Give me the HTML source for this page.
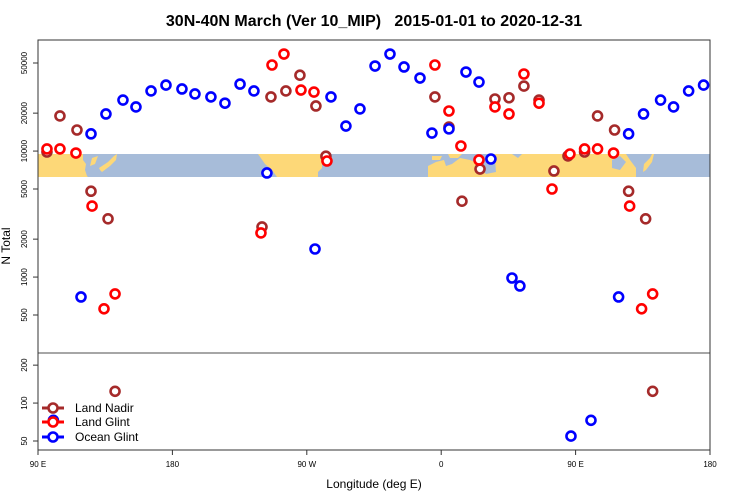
<!DOCTYPE html>
<html><head><meta charset="utf-8"><style>
body{margin:0;background:#fff;}
svg{display:block;font-family:"Liberation Sans",sans-serif;}
</style></head><body>
<svg id="chart" width="750" height="500">
<text x="374" y="26" text-anchor="middle" font-size="16" font-weight="bold" style="white-space:pre" xml:space="preserve">30N-40N March (Ver 10_MIP)   2015-01-01 to 2020-12-31</text>
<g id="map">
<rect x="38" y="154" width="672" height="23" fill="#a7bcd9"/>
<g fill="#fdd878">
<polygon points="38,154 83,154 83,160 86,164 85,170 87,176 88,177 38,177"/>
<polygon points="92,158 98,156 95,164 90,166"/>
<polygon points="99,168 108,162 114,156 117,154 116,160 110,166 102,172 100,170"/>
<polygon points="258,154 322,154 322,168 318,172 318,177 277,177 272,170 265,164"/>
<polygon points="428,166 436,162 444,160 446,166 452,164 460,158 470,160 480,164 490,160 495,154 512,154 518,158 522,154 626,154 630,160 636,168 636,177 428,177"/>
<polygon points="432,156 442,156 440,160 432,160"/>
<polygon points="448,154 462,154 458,158 450,158"/>
<polygon points="644,164 650,158 652,154 654,154 652,162 646,170 643,172"/>
</g>
<g fill="#a7bcd9">
<polygon points="478,160 495,160 496,172 486,174 480,168"/>
<polygon points="612,160 620,156 626,162 620,170 612,168"/>
</g>
</g>
<line x1="38" y1="353" x2="710" y2="353" stroke="#888" stroke-width="1.5"/>
<rect x="38" y="40" width="672" height="410" fill="none" stroke="#333" stroke-width="1"/>
<g id="axes"></g>
<g id="points"></g>
<g>
<g><line x1="42" y1="408" x2="64" y2="408" stroke="#a52a2a" stroke-width="3"/><circle cx="53" cy="408" r="4.5" fill="#fff" stroke="#a52a2a" stroke-width="2.6"/><text x="75" y="412" font-size="12">Land Nadir</text></g>
<g><line x1="42" y1="422" x2="64" y2="422" stroke="#ff0000" stroke-width="3"/><circle cx="53" cy="422" r="4.5" fill="#fff" stroke="#ff0000" stroke-width="2.6"/><text x="75" y="426" font-size="12">Land Glint</text></g>
<g><line x1="42" y1="437" x2="64" y2="437" stroke="#0000ff" stroke-width="3"/><circle cx="53" cy="437" r="4.5" fill="#fff" stroke="#0000ff" stroke-width="2.6"/><text x="75" y="441" font-size="12">Ocean Glint</text></g>
</g>
<text x="374" y="488" text-anchor="middle" font-size="12">Longitude (deg E)</text>
<text transform="translate(10,246) rotate(-90)" text-anchor="middle" font-size="12">N Total</text>
</svg>
<script>
const landNadirLon=[96,104.7,116.1,125.5,136.9,141.6,-120,-114,-104,-94.6,-83.9,-77.2,-4.2,5.2,13.9,26,36,45.4,55.4,65.5,75.5,84.9];
const landNadirN=[9830,19000,14700,4800,2900,124,2500,26900,30000,40000,22800,9100,26900,15500,4000,7200,25900,26500,32800,25400,6950,9150];
const landGlintLon=[96,104.7,115.4,126.2,134.2,141.6,-120.7,-113.3,-105.3,-93.9,-85.2,-76.5,-4.2,5.2,13.2,25.3,36,45.4,55.4,65.5,74.2,86.2];
const landGlintN=[10400,10400,9650,3660,560,735,2240,48200,58900,30500,29400,8340,48200,20800,10970,8500,22400,19700,40900,24000,5000,9480];
const oceanGlintLon=[118.8,125.5,135.5,146.9,155.6,165.7,175.7,-173.6,-164.9,-154.2,-144.8,-134.7,-125.4,-116.7,-84.5,-73.8,-63.8,-54.4,-44.3,-34.3,-24.9,-14.2,-6.2,5.2,16.6,25.3,33.3,47.4,52.7,86.9,100.3];
const oceanGlintN=[695,13700,19700,25400,22400,30000,33400,31100,28400,26900,24000,34000,30000,6700,1670,26900,15800,21600,47300,58900,46500,38000,13900,15000,42400,35300,8650,983,850,54.7,73];
const xTickLabels=["90 E","180","90 W","0","90 E","180"];
const xTickVals=[90,180,270,360,450,540];
const yTickUpper=[50000,20000,10000,5000,2000,1000,500];
const yTickLower=[200,100,50];

const NS="http://www.w3.org/2000/svg";
function xScale(u){return 38+(u-90)*672/450;}
function yScale(v){return 189-126*Math.log10(v/5000);}
function mk(tag,attrs,parent){const e=document.createElementNS(NS,tag);for(const k in attrs)e.setAttribute(k,attrs[k]);parent.appendChild(e);return e;}
const axes=document.getElementById('axes');
xTickVals.forEach((u,i)=>{
  const x=xScale(u);
  const t=mk('line',{x1:x,y1:450,x2:x,y2:455,stroke:'#333'},axes);
  
  
  const l=mk('text',{x:x,y:467,'text-anchor':'middle','font-size':'8'},axes);
  l.textContent=xTickLabels[i];
  
  
});
yTickUpper.concat(yTickLower).forEach(v=>{
  const y=yScale(v);
  const t=mk('line',{x1:33,y1:y,x2:38,y2:y,stroke:'#333'},axes);
  
  
  const l=mk('text',{transform:`translate(27,${y}) rotate(-90)`,'text-anchor':'middle','font-size':'8'},axes);
  l.textContent=String(v);
  
  
});
const pts=document.getElementById('points');
function series(lons,ns,color,name){
  lons.forEach((lon,i)=>{
    let u=lon<90?lon+360:lon;
    [u,u+360].forEach(uu=>{
      if(uu<88||uu>542)return;
      const c=mk('circle',{cx:xScale(uu),cy:yScale(ns[i]),r:4.5,fill:'#fff',stroke:color,'stroke-width':2.6},pts);
      
      
    });
  });
}
series(landNadirLon,landNadirN,'#a52a2a','land-nadir-point');
series(landGlintLon,landGlintN,'#ff0000','land-glint-point');
series(oceanGlintLon,oceanGlintN,'#0000ff','ocean-glint-point');
</script>
</body></html>
